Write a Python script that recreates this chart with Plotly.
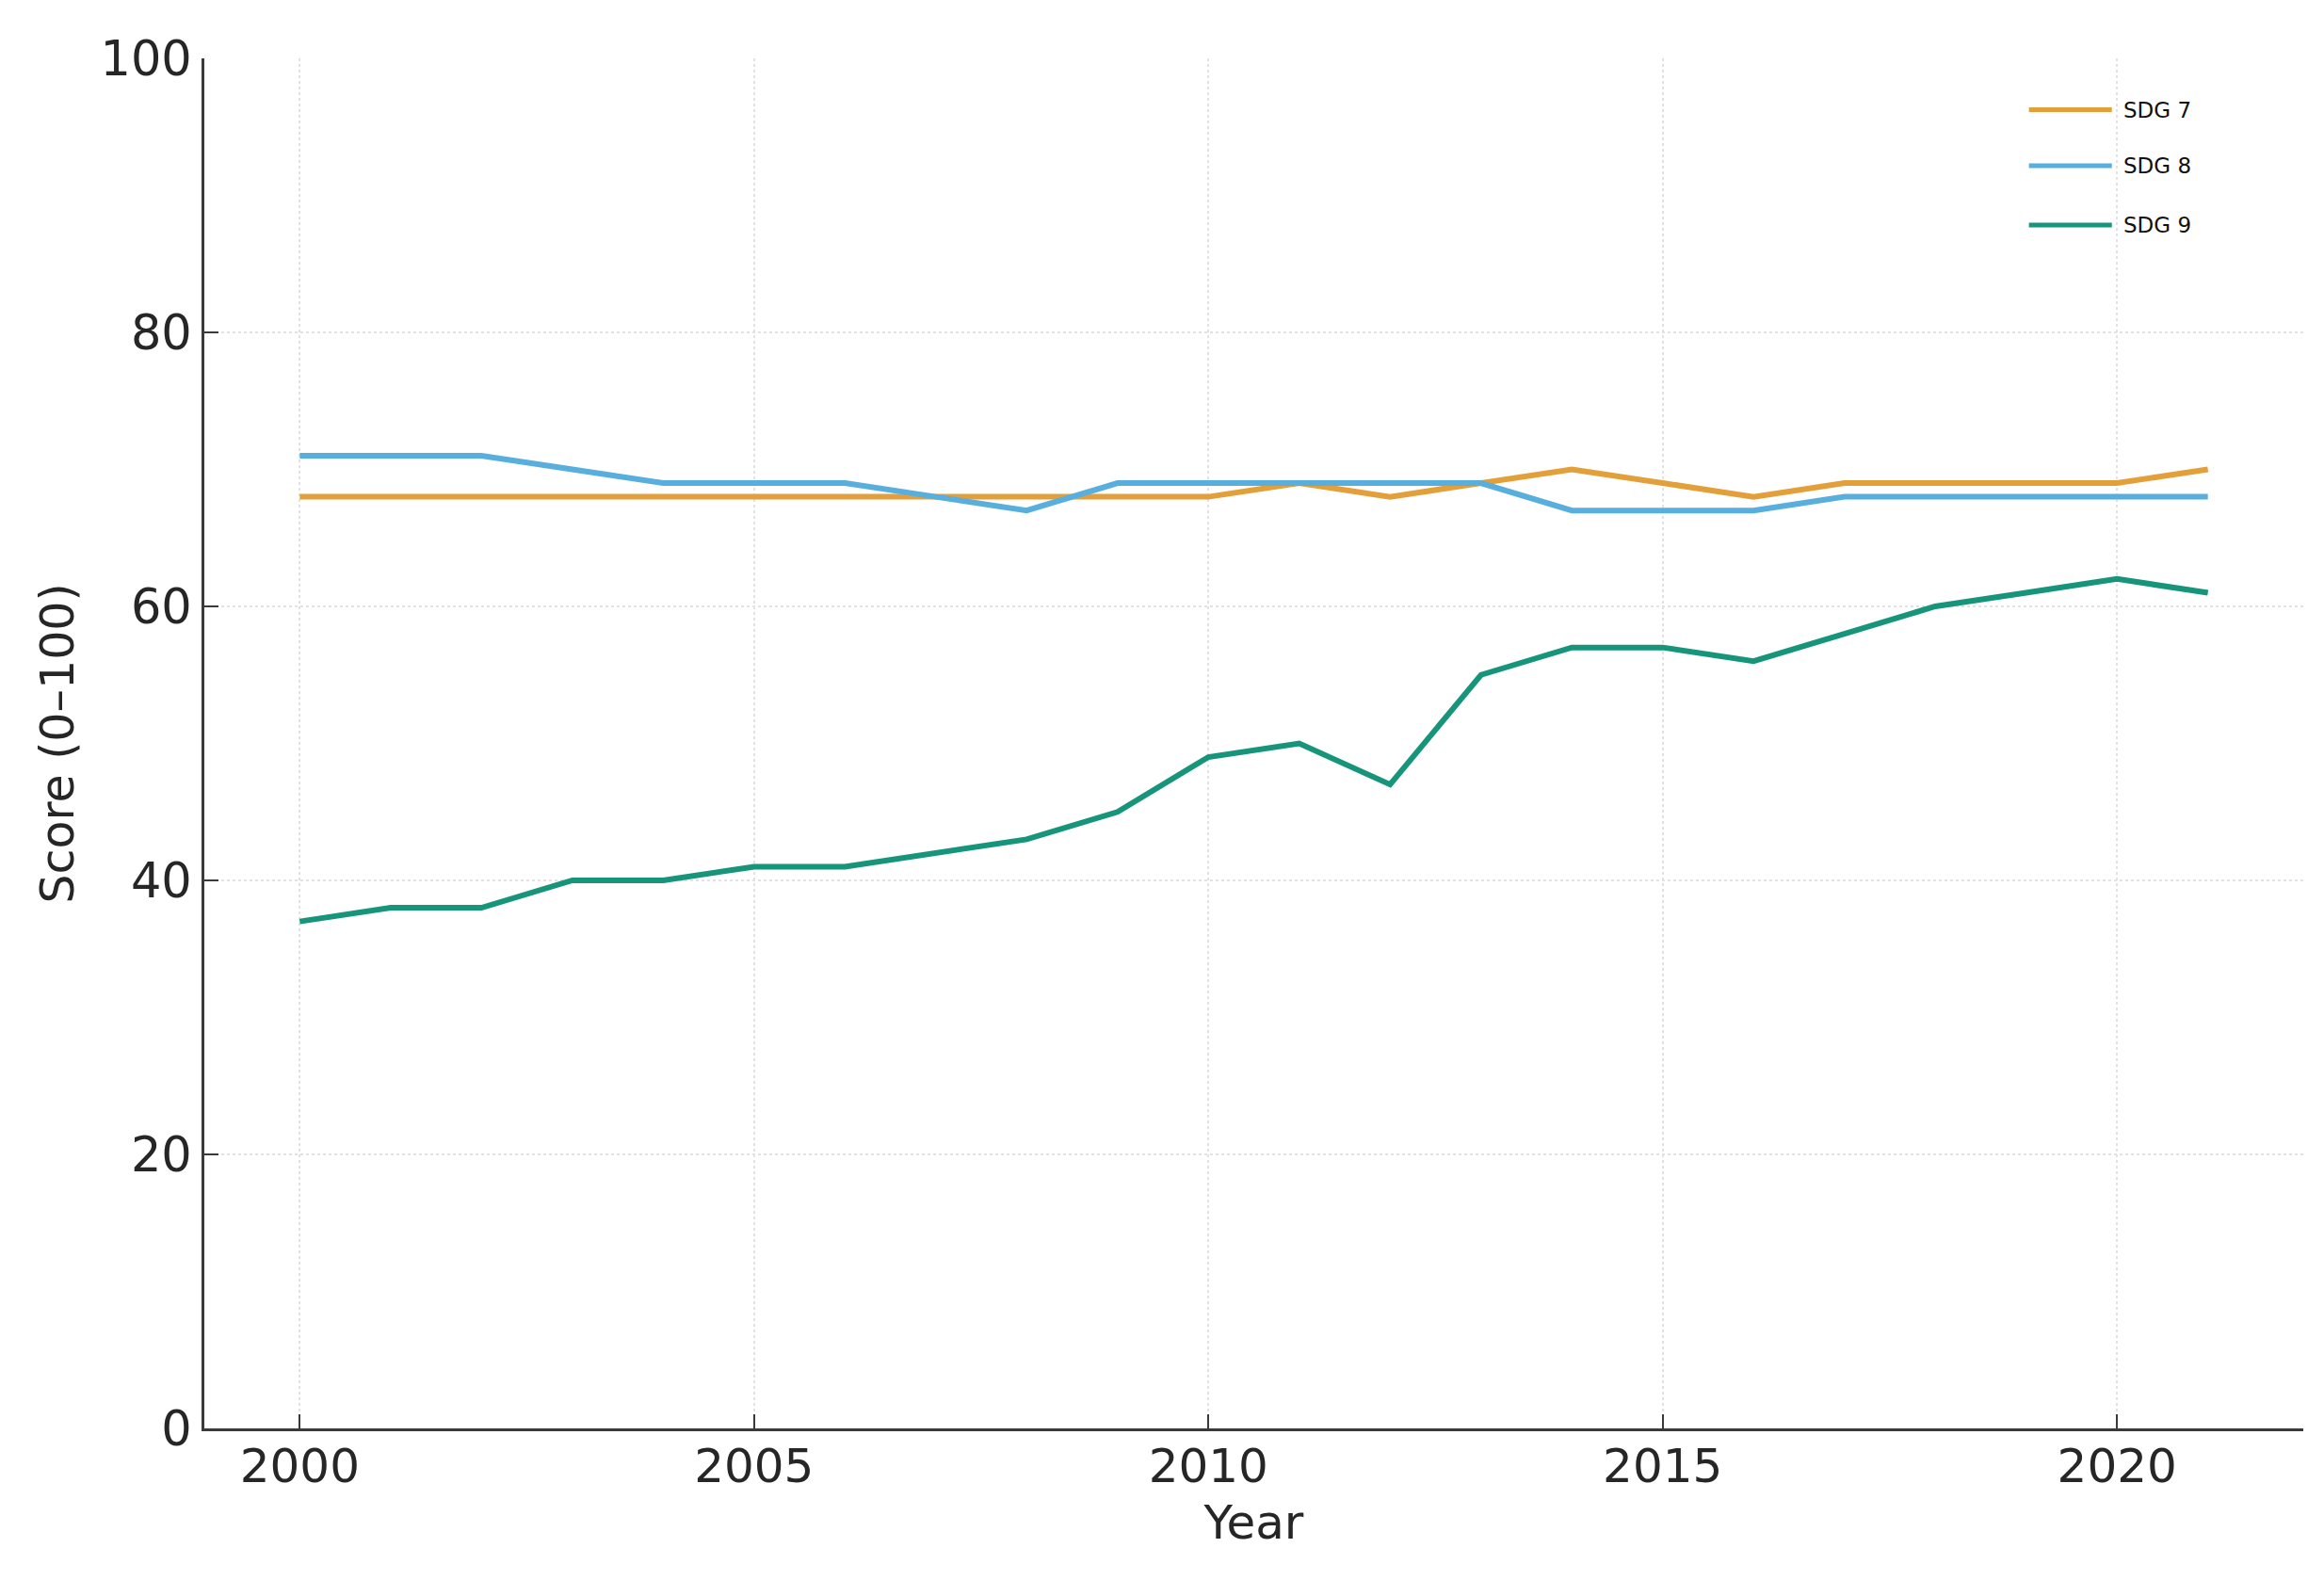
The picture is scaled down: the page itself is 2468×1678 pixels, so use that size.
import plotly.graph_objects as go

years = list(range(2000, 2022))
sdg7 = [68, 68, 68, 68, 68, 68, 68, 68, 68, 68, 68, 69, 68, 69, 70, 69, 68, 69, 69, 69, 69, 70]
sdg8 = [71, 71, 71, 70, 69, 69, 69, 68, 67, 69, 69, 69, 69, 69, 67, 67, 67, 68, 68, 68, 68, 68]
sdg9 = [37, 38, 38, 40, 40, 41, 41, 42, 43, 45, 49, 50, 47, 55, 57, 57, 56, 58, 60, 61, 62, 61]
series_names = ["SDG 7", "SDG 8", "SDG 9"]
series_colors = ["#E3A03A", "#58AFDD", "#17957A"]
x_ticks = [2000, 2005, 2010, 2015, 2020]
y_ticks = [0, 20, 40, 60, 80, 100]

FONT = "DejaVu Sans"
fig = go.Figure()
for name, vals, col in zip(series_names, [sdg7, sdg8, sdg9], series_colors):
    fig.add_trace(go.Scatter(x=years, y=vals, mode="lines", name=name,
                             line=dict(color=col, width=6), showlegend=False))

# manual legend (long line samples as in the reference)
leg_y = [0.9625, 0.9216, 0.8783]
for name, col, yy in zip(series_names, series_colors, leg_y):
    fig.add_shape(type="line", xref="paper", yref="paper", x0=0.8693, x1=0.9088,
                  y0=yy, y1=yy, line=dict(color=col, width=5))
    fig.add_annotation(xref="paper", yref="paper", x=0.9135, y=yy, text=name,
                       showarrow=False, xanchor="left", yanchor="middle",
                       font=dict(family=FONT, size=23, color="#111111"))

axis_common = dict(showline=True, linecolor="#3a3a3a", linewidth=3,
                   ticks="inside", ticklen=15, tickwidth=2, tickcolor="#3a3a3a",
                   showgrid=True, gridcolor="#e2e2e2", gridwidth=1.5, griddash="dot",
                   zeroline=False, mirror=False)

fig.update_xaxes(range=[1998.95, 2022.05], tickvals=x_ticks,
                 tickfont=dict(family=FONT, size=50, color="#262626"),
                 ticklabelstandoff=-6,
                 title=dict(text="Year", font=dict(family=FONT, size=50, color="#262626"), standoff=14),
                 **axis_common)
fig.update_yaxes(range=[0, 100], tickvals=y_ticks,
                 tickfont=dict(family=FONT, size=51, color="#262626"),
                 title=dict(text="Score (0–100)", font=dict(family=FONT, size=49, color="#262626"), standoff=13),
                 **axis_common)

fig.update_layout(width=2468, height=1678,
                  margin=dict(l=209, r=30, t=54, b=169),
                  paper_bgcolor="white", plot_bgcolor="white",
                  font=dict(family=FONT))

fig.write_html("out.html")
